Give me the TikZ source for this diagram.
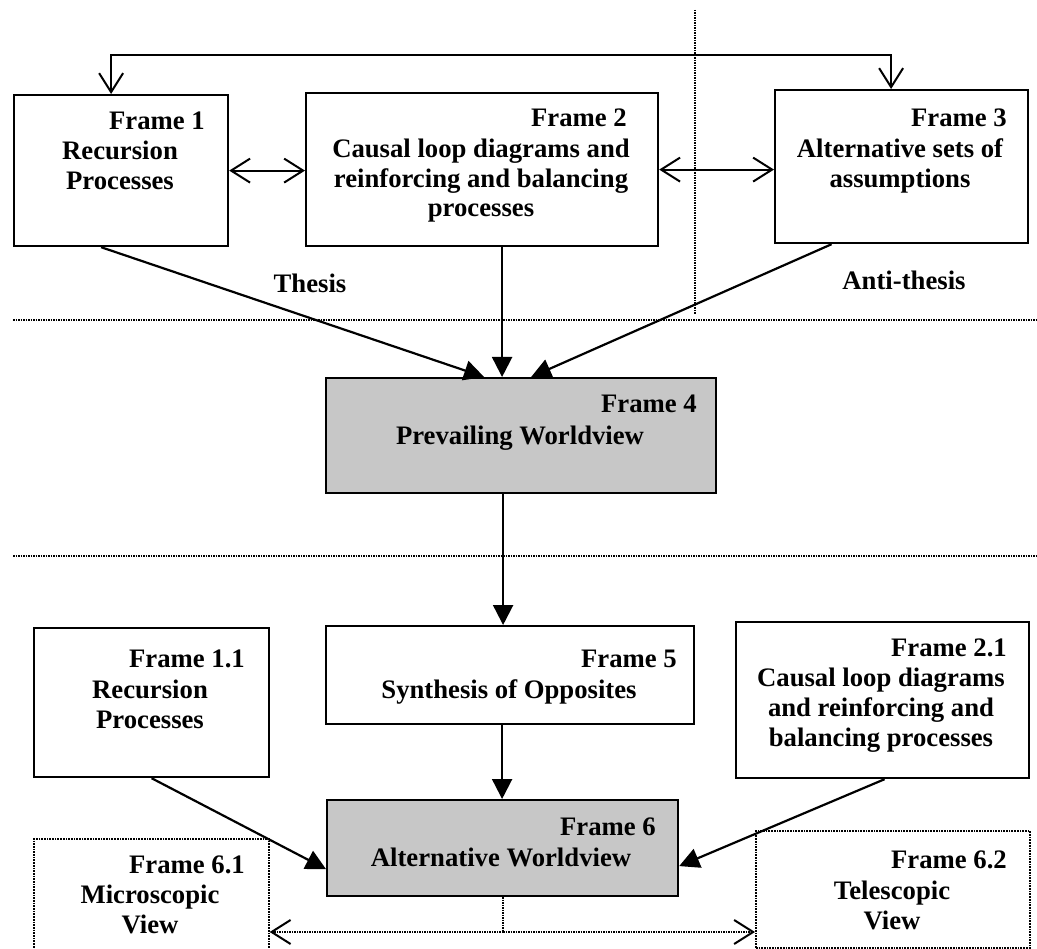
\documentclass[tikz,border=0pt]{standalone}
\usepackage{fontspec}
\setmainfont{Liberation Serif}
\usetikzlibrary{arrows.meta,calc}
\begin{document}
\begin{tikzpicture}[x=1pt,y=-1pt,
  frame/.style={draw, line width=2.2pt, rectangle, inner sep=0pt, anchor=north west},
  worldview/.style={frame, fill=black!22},
  viewbox/.style={draw, line width=1.7pt, densely dotted, rectangle, inner sep=0pt, anchor=north west},
  lbl/.style={font=\bfseries\fontsize{26.7}{30}\selectfont, inner sep=0pt, anchor=base},
  head/.style={lbl, anchor=base east},
  guide/.style={line width=1.5pt, densely dotted},
  flow/.style={line width=2.2pt, -{Triangle[length=20pt,width=20pt]}},
  link/.style={line width=2pt, {Straight Barb[length=19pt,width=24pt]}-{Straight Barb[length=19pt,width=24pt]}},
  split/.style={line width=1.5pt, densely dotted, -{Straight Barb[length=19pt,width=24pt,line width=2pt]}}
]
\useasboundingbox (0,0) rectangle (1037,949);

% section separators
\coordinate (sepL1) at (13,320);  \coordinate (sepR1) at (1037,320);
\coordinate (sepL2) at (13,556);  \coordinate (sepR2) at (1037,556);
\coordinate (colT)  at (695,10);  \coordinate (colB)  at (695,315);
\draw[guide] (sepL1) -- (sepR1);
\draw[guide] (sepL2) -- (sepR2);
\draw[guide] (colT) -- (colB);

% top row
\node[frame, minimum width=214, minimum height=151] (f1) at (13,94) {};
\node[head] (f1h) at (205,130) {Frame 1};
\node[lbl] (f1a) at (120,160) {Recursion};
\node[lbl] (f1b) at (120,190) {Processes};

\node[frame, minimum width=352, minimum height=153] (f2) at (305,92) {};
\node[head] (f2h) at (627,127) {Frame 2};
\node[lbl] (f2a) at (481,158) {Causal loop diagrams and};
\node[lbl] (f2b) at (481,188) {reinforcing and balancing};
\node[lbl] (f2c) at (481,217) {processes};

\node[frame, minimum width=253, minimum height=153] (f3) at (774,89) {};
\node[head] (f3h) at (1007,127) {Frame 3};
\node[lbl] (f3a) at (900,158) {Alternative sets of};
\node[lbl] (f3b) at (900,188) {assumptions};

\node[lbl] (thesis) at (310,293) {Thesis};
\node[lbl] (anti) at (904,290) {Anti-thesis};

% prevailing worldview
\node[worldview, minimum width=390, minimum height=115] (f4) at (325,377) {};
\node[head] (f4h) at (697,413) {Frame 4};
\node[lbl] (f4a) at (520,445) {Prevailing Worldview};

% synthesis row
\node[frame, minimum width=235, minimum height=149] (f11) at (33,627) {};
\node[head] (f11h) at (245,667) {Frame 1.1};
\node[lbl] (f11a) at (150,698) {Recursion};
\node[lbl] (f11b) at (150,728) {Processes};

\node[frame, minimum width=368, minimum height=98] (f5) at (325,625) {};
\node[head] (f5h) at (677,667) {Frame 5};
\node[lbl] (f5a) at (509,698) {Synthesis of Opposites};

\node[frame, minimum width=293, minimum height=156] (f21) at (735,621) {};
\node[head] (f21h) at (1007,656) {Frame 2.1};
\node[lbl] (f21a) at (881,686) {Causal loop diagrams};
\node[lbl] (f21b) at (881,716) {and reinforcing and};
\node[lbl] (f21c) at (881,746) {balancing processes};

% alternative worldview
\node[worldview, minimum width=351, minimum height=96] (f6) at (326,799) {};
\node[head] (f6h) at (656,835) {Frame 6};
\node[lbl] (f6a) at (501,866) {Alternative Worldview};

\node[viewbox, minimum width=235, minimum height=125] (f61) at (33,838) {};
\node[head] (f61h) at (245,873) {Frame 6.1};
\node[lbl] (f61a) at (150,903) {Microscopic};
\node[lbl] (f61b) at (150,933) {View};

\node[viewbox, minimum width=274, minimum height=117] (f62) at (755,830) {};
\node[head] (f62h) at (1007,868) {Frame 6.2};
\node[lbl] (f62a) at (892,899) {Telescopic};
\node[lbl] (f62b) at (892,929) {View};

% feedback loop over the top row
\coordinate (loop) at (0,55);
\coordinate (loopL) at ([xshift=-10pt]f1.north);
\coordinate (loopR) at ([xshift=-10.5pt]f3.north);
\draw[link] (loopL) -- (loopL |- loop) -| (loopR);
\draw[link] (f1.east) -- (f1.east -| f2.west);
\draw[link] (f2.east) -- (f2.east -| f3.west);

% thesis / anti-thesis into the prevailing worldview
\draw[flow] ([xshift=-20pt]f1.south) -- ([xshift=-37pt]f4.north);
\draw[flow] ([xshift=20pt]f2.south) -- ([xshift=-19pt]f4.north);
\draw[flow] ([xshift=-70pt]f3.south) -- ([xshift=10pt]f4.north);

% down to synthesis and the alternative worldview
\draw[flow] ([xshift=-18pt]f4.south) -- ([xshift=-18pt]f4.south |- f5.north);
\draw[flow] ([xshift=-8pt]f5.south) -- ([xshift=-8pt]f5.south |- f6.north);
\draw[flow] (f11.south) -- ([yshift=-21pt]f6.west);
\draw[flow] ([xshift=2pt]f21.south) -- ([yshift=-18pt]f6.east);

% microscopic / telescopic split
\coordinate (fork) at (503,932);
\draw[guide] (f6.south -| fork) -- (fork);
\draw[split] (fork) -- (fork -| f61.east);
\draw[split] (fork) -- (fork -| f62.west);
\end{tikzpicture}
\end{document}
